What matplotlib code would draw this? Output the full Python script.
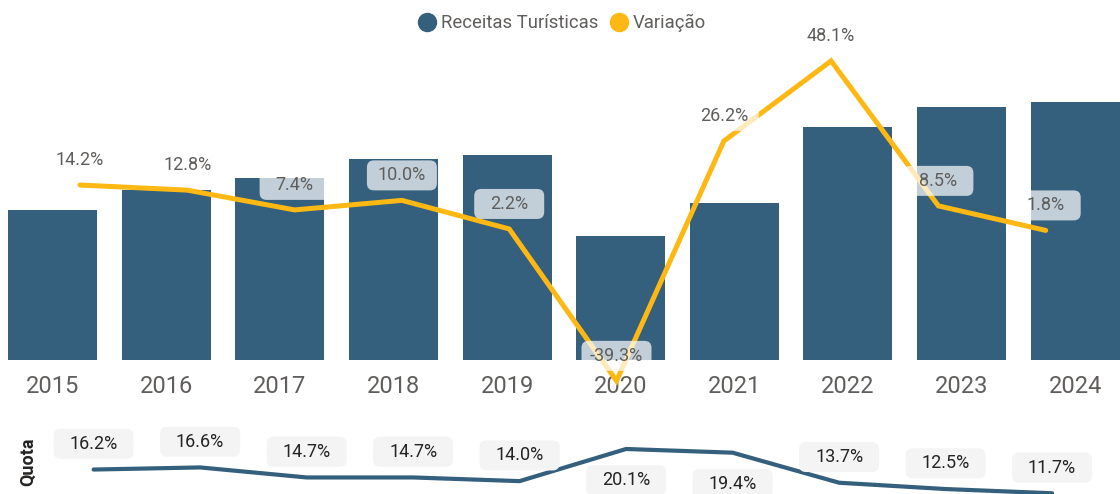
import matplotlib
matplotlib.use('Agg')
import matplotlib.pyplot as plt
from matplotlib.patches import BoxStyle
from matplotlib.lines import Line2D

# ---- data ----
years = ['2015', '2016', '2017', '2018', '2019', '2020', '2021', '2022', '2023', '2024']
receitas = [1500, 1700, 1820, 2010, 2050, 1240, 1570, 2330, 2530, 2580]
variacao = [14.2, 12.8, 7.4, 10.0, 2.2, -39.3, 26.2, 48.1, 8.5, 1.8]
quota = [16.2, 16.6, 14.7, 14.7, 14.0, 20.1, 19.4, 13.7, 12.5, 11.7]
legend_labels = ['Receitas Turísticas', 'Variação']
panel_label = 'Quota'

plt.rcParams['font.family'] = ['Roboto', 'DejaVu Sans']

W, H = 1120, 494
fig = plt.figure(figsize=(W / 100, H / 100), dpi=100)
fig.patch.set_facecolor('white')

BAR = '#345F7D'
YEL = '#FDB813'
GRAY = '#605E5C'
DARK = '#252423'


def fr(left, top, w, h):
    return [left / W, 1 - (top + h) / H, w / W, h / H]


class FixedRound:
    """Rounded box of fixed pixel size centred on the text."""
    def __init__(self, w, h, r):
        self.w, self.h, self.r = w, h, r

    def __call__(self, x0, y0, width, height, mutation_size):
        cx = x0 + width / 2
        cy = y0 + height / 2
        style = BoxStyle.Round(pad=0, rounding_size=self.r / mutation_size)
        return style(cx - self.w / 2, cy - self.h / 2, self.w, self.h, mutation_size)


xs = list(range(len(years)))

# ---- bars ----
ax = fig.add_axes(fr(0, 40, W, 320))
ax.bar(xs, receitas, width=0.783, color=BAR, zorder=2)
ax.set_xlim(-0.4639, 9.395)
ax.set_ylim(0, 3200)
ax.set_xticks(xs)
ax.set_xticklabels(years, fontsize=17, color=GRAY)
ax.tick_params(axis='x', length=0, pad=10.5)
ax.set_yticks([])
for s in ax.spines.values():
    s.set_visible(False)
ax.patch.set_alpha(0)

# ---- variation line ----
ax2 = fig.add_axes(fr(0, 40, W, 320))
ax2.set_xlim(-0.7456, 9.6925)
ax2.set_ylim(-33.6, 53.81)
ax2.axis('off')
ax2.plot(xs, variacao, color=YEL, lw=3.6, clip_on=False, zorder=3,
         solid_joinstyle='miter', solid_capstyle='round')
for i, v in enumerate(variacao):
    ax2.annotate(f'{v:.1f}%', (i, v), xytext=(0, 18), textcoords='offset points',
                 ha='center', va='center', fontsize=13, color=GRAY,
                 annotation_clip=False, zorder=5,
                 bbox=dict(boxstyle=FixedRound(70, 30, 7), fc='white', ec='none', alpha=0.7))

# ---- quota panel ----
ax3 = fig.add_axes(fr(0, 420, W, 74))
ax3.set_xlim(-0.879, 9.638)
ax3.set_ylim(11.56, 25.6)
ax3.axis('off')
ax3.plot(xs, quota, color=BAR, lw=3, clip_on=False, zorder=2, solid_capstyle='round')
for i, q in enumerate(quota):
    off = -22.5 if q > 18 else 18.5
    ax3.annotate(f'{q:.1f}%', (i, q), xytext=(0, off), textcoords='offset points',
                 ha='center', va='center', fontsize=13, color=DARK,
                 annotation_clip=False, zorder=5,
                 bbox=dict(boxstyle=FixedRound(80, 30, 7), fc='#F4F4F4', ec='none'))

fig.text(27.7 / W, 1 - 462 / H, panel_label, rotation=90, ha='center', va='center',
         fontsize=13, fontweight='bold', color=DARK)

# ---- legend ----
handles = [Line2D([], [], marker='o', ls='', markersize=13, color=BAR, label=legend_labels[0]),
           Line2D([], [], marker='o', ls='', markersize=13, color=YEL, label=legend_labels[1])]
fig.legend(handles=handles, loc='center', bbox_to_anchor=(562 / W, 1 - 23 / H), ncol=2,
           frameon=False, fontsize=13.3, labelcolor=GRAY, handlelength=1.0,
           handletextpad=0.25, columnspacing=0.65, borderpad=0)

fig.savefig('out.png', dpi=100)
